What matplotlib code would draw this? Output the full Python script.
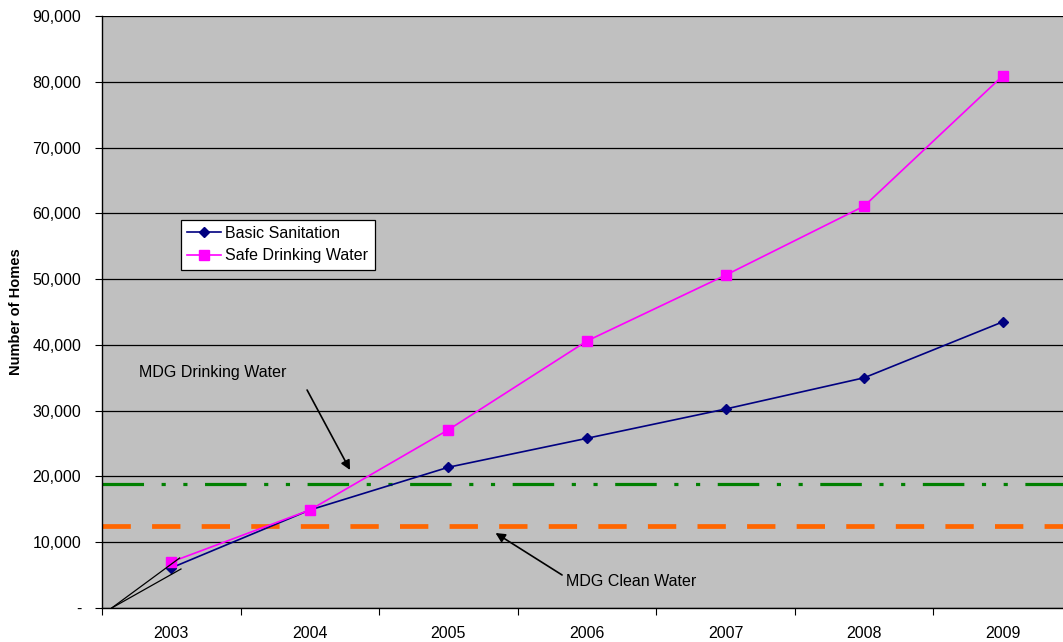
import matplotlib.pyplot as plt
from matplotlib.ticker import FuncFormatter

years = ["2003", "2004", "2005", "2006", "2007", "2008", "2009"]
basic_sanitation = [6100, 14900, 21400, 25800, 30250, 35000, 43500]
safe_drinking_water = [7000, 14900, 27100, 40600, 50600, 61100, 80900]
mdg_drinking_water = 18900
mdg_clean_water = 12500

plt.rcParams["font.family"] = ["Liberation Sans", "DejaVu Sans"]
FS = 11.5

fig = plt.figure(figsize=(10.63, 6.42), dpi=100)
ax = fig.add_axes([102 / 1063, 34 / 642, 970 / 1063, 592 / 642])
ax.set_facecolor("#c0c0c0")

x = list(range(len(years)))

# target lines run across the whole plot area
ax.axhline(mdg_drinking_water, color="#008000", lw=2.3,
           dashes=(13, 5.5, 1.3, 5.5, 1.3, 5.5), zorder=2)
ax.axhline(mdg_clean_water, color="#ff6600", lw=3.4, dashes=(6, 4.5), zorder=2)

ax.plot(x, basic_sanitation, color="#000080", lw=1.2, marker="D", ms=5.5,
        label="Basic Sanitation", zorder=3)
ax.plot(x, safe_drinking_water, color="#ff00ff", lw=1.2, marker="s", ms=7,
        label="Safe Drinking Water", zorder=4)

# thin wedge from the origin to the first points
ax.plot([-0.43, 0.06], [0, 7600], color="black", lw=0.9, zorder=5)
ax.plot([-0.43, 0.07], [0, 5930], color="black", lw=0.9, zorder=5)

ax.set_xlim(-0.5, 6.5)
ax.set_ylim(0, 90000)
ax.set_yticks(range(0, 90001, 10000))
ax.yaxis.set_major_formatter(FuncFormatter(lambda v, p: "-" if v == 0 else f"{int(v):,}"))
ax.yaxis.grid(True, color="black", lw=0.9)
ax.set_axisbelow(True)

ax.set_xticks([i - 0.5 for i in range(len(years) + 1)])
ax.set_xticklabels([])
ax.set_xticks(x, minor=True)
ax.set_xticklabels(years, minor=True)
ax.tick_params(axis="x", which="minor", length=0, pad=13, labelsize=FS)
ax.tick_params(axis="x", which="major", length=5, direction="out")
ax.tick_params(axis="y", length=5, direction="out", labelsize=FS, pad=10)

for side in ["top", "right"]:
    ax.spines[side].set_visible(False)
for side in ["left", "bottom"]:
    ax.spines[side].set_color("black")
    ax.spines[side].set_linewidth(1.0)

ax.set_ylabel("Number of Homes", fontsize=FS - 1, fontweight="bold", labelpad=7)

leg = ax.legend(loc="upper left", bbox_to_anchor=(0.081, 0.656), fontsize=FS,
                frameon=True, fancybox=False, edgecolor="black", framealpha=1,
                handlelength=2.15, borderpad=0.4, labelspacing=0.45,
                handletextpad=0.25, borderaxespad=0)
leg.get_frame().set_facecolor("white")
leg.get_frame().set_linewidth(0.9)

ax.annotate("MDG Drinking Water", xy=(1.29, 20980), xytext=(-0.23, 35730),
            fontsize=FS, va="center", ha="left")
ax.annotate("", xy=(1.29, 20980), xytext=(0.98, 33140),
            arrowprops=dict(arrowstyle="-|>", color="black", lw=1.2,
                            mutation_scale=14, shrinkA=0, shrinkB=0))

ax.annotate("MDG Clean Water", xy=(2.34, 11400), xytext=(2.85, 4100),
            fontsize=FS, va="center", ha="left")
ax.annotate("", xy=(2.34, 11400), xytext=(2.82, 5020),
            arrowprops=dict(arrowstyle="-|>", color="black", lw=1.2,
                            mutation_scale=14, shrinkA=0, shrinkB=0))

fig.savefig("out.png", dpi=100)
